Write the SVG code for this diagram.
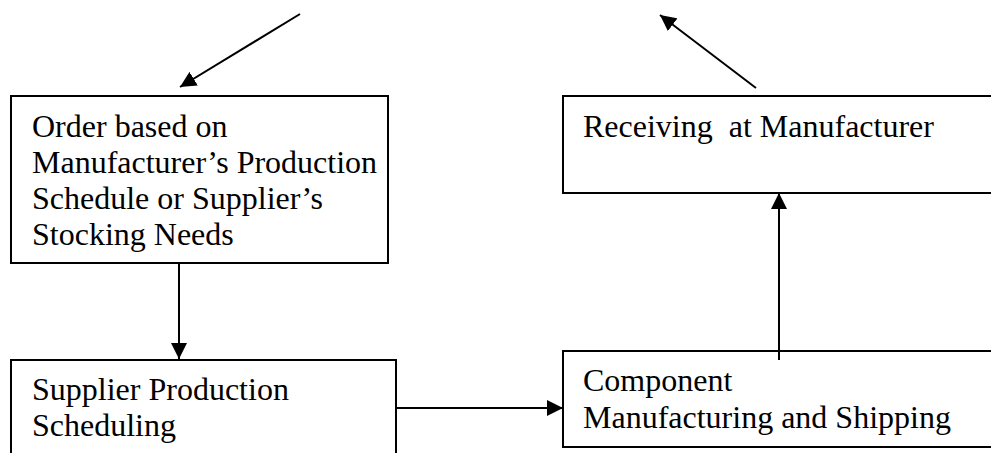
<svg xmlns="http://www.w3.org/2000/svg" width="991" height="453" viewBox="0 0 991 453">
<defs>
<style>
.box{fill:#fff;stroke:#000;stroke-width:2}
.t{font-family:"Liberation Serif","Times New Roman",serif;font-size:32px;fill:#000;white-space:pre}
.c{stroke:#000;stroke-width:2;fill:none}
</style>
<marker id="ah" viewBox="0 0 10 10" refX="10" refY="5" markerWidth="16" markerHeight="16" markerUnits="userSpaceOnUse" orient="auto">
<path d="M0,0 L10,5 L0,10 z" fill="#000"/>
</marker>
</defs>
<rect width="991" height="453" fill="#fff"/>
<g id="order">
<rect class="box" x="11" y="96" width="377" height="167"/>
<text class="t" x="32" y="137">Order based on</text>
<text class="t" x="32" y="173">Manufacturer’s Production</text>
<text class="t" x="32" y="209">Schedule or Supplier’s</text>
<text class="t" x="32" y="245">Stocking Needs</text>
</g>
<g id="receiving">
<rect class="box" x="563" y="96" width="440" height="97"/>
<text class="t" x="583" y="137" xml:space="preserve">Receiving  at Manufacturer</text>
</g>
<g id="scheduling">
<rect class="box" x="11" y="360" width="385" height="110"/>
<text class="t" x="32" y="400">Supplier Production</text>
<text class="t" x="32" y="436">Scheduling</text>
</g>
<g id="component">
<rect class="box" x="563" y="351" width="440" height="96"/>
<text class="t" x="583" y="391">Component</text>
<text class="t" x="583" y="428">Manufacturing and Shipping</text>
</g>
<g id="connectors">
<line class="c" x1="300" y1="14" x2="180" y2="87" marker-end="url(#ah)"/>
<line class="c" x1="756" y1="88" x2="660" y2="15" marker-end="url(#ah)"/>
<line class="c" x1="179" y1="263" x2="179" y2="359" marker-end="url(#ah)"/>
<line class="c" x1="396" y1="408" x2="563" y2="408" marker-end="url(#ah)"/>
<line class="c" x1="779" y1="360" x2="779" y2="193" marker-end="url(#ah)"/>
</g>
</svg>
